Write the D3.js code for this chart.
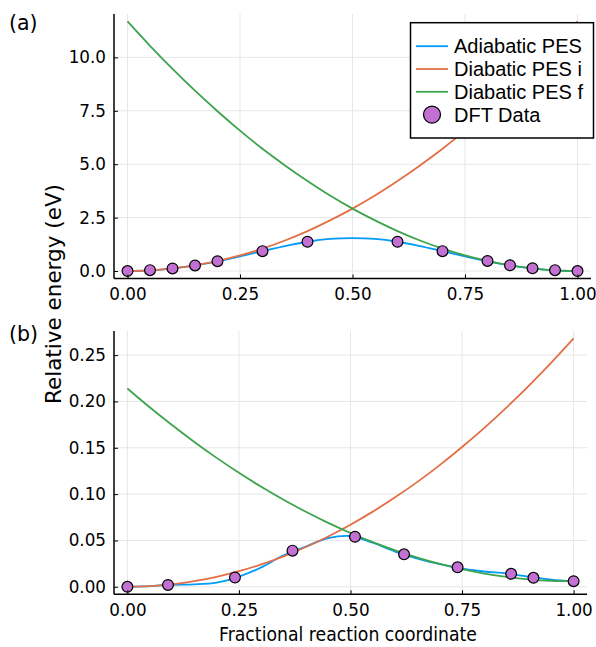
<!DOCTYPE html>
<html>
<head>
<meta charset="utf-8">
<script src="https://cdn.jsdelivr.net/npm/d3@7"></script>
<style>
  body { margin: 0; background: #fff; }
  svg { display: block; }
  .tick text { font-family: "DejaVu Sans", sans-serif; font-size: 16.8px; fill: #000; }
</style>
</head>
<body>
<svg id="chart" width="596" height="647"></svg>
<script>
// sample positions along the reaction coordinate
var coord = [0, 0.05, 0.1, 0.15, 0.2, 0.25, 0.3, 0.35, 0.4, 0.45, 0.5,
             0.55, 0.6, 0.65, 0.7, 0.75, 0.8, 0.85, 0.9, 0.95, 1];

// panel (a)
var adiabaticA = [0, 0.03, 0.12, 0.26, 0.45, 0.69, 0.93, 1.17, 1.37, 1.5, 1.54,
                  1.5, 1.37, 1.17, 0.93, 0.69, 0.45, 0.26, 0.12, 0.03, 0];
var diabIA = [0, 0.03, 0.12, 0.26, 0.47, 0.73, 1.05, 1.43, 1.87, 2.37, 2.92,
              3.53, 4.21, 4.94, 5.72, 6.57, 7.48, 8.44, 9.46, 10.54, 11.68];
var diabFA = [11.68, 10.54, 9.46, 8.44, 7.48, 6.57, 5.72, 4.94, 4.21, 3.53, 2.92,
              2.37, 1.87, 1.43, 1.05, 0.73, 0.47, 0.26, 0.12, 0.03, 0];
var dftXA = [0, 0.05, 0.1, 0.15, 0.2, 0.3, 0.4, 0.6, 0.7, 0.8, 0.85, 0.9, 0.95, 1];
var dftYA = [0, 0.04, 0.12, 0.26, 0.46, 0.93, 1.37, 1.37, 0.93, 0.47, 0.27, 0.13, 0.04, 0];
var yTicksA = [0, 2.5, 5, 7.5, 10];

// panel (b)
var adiabaticB = [0, 0.0008, 0.0022, 0.0026, 0.0045, 0.011, 0.021, 0.034, 0.0435, 0.0525, 0.0548,
                  0.0475, 0.038, 0.0305, 0.0245, 0.0195, 0.0165, 0.0143, 0.0108, 0.0078, 0.006];
var diabIB = [0, 0.0007, 0.0027, 0.006, 0.0107, 0.0168, 0.0241, 0.0328, 0.0429, 0.0543, 0.067,
              0.0811, 0.0965, 0.1132, 0.1313, 0.1508, 0.1715, 0.1936, 0.2171, 0.2419, 0.268];
var diabFB = [0.214, 0.1937, 0.1745, 0.1563, 0.1391, 0.123, 0.1079, 0.0939, 0.0809, 0.0689, 0.058,
              0.0481, 0.0393, 0.0315, 0.0247, 0.019, 0.0143, 0.0107, 0.0081, 0.0065, 0.006];
var dftXB = [0, 0.091, 0.241, 0.37, 0.51, 0.62, 0.74, 0.86, 0.91, 1];
var dftYB = [0, 0.002, 0.01, 0.039, 0.054, 0.035, 0.021, 0.014, 0.0097, 0.006];
var yTicksB = [0, 0.05, 0.1, 0.15, 0.2, 0.25];

var xTicks = [0, 0.25, 0.5, 0.75, 1];
var seriesNames = ['Adiabatic PES', 'Diabatic PES i', 'Diabatic PES f', 'DFT Data'];
var colors = ['#009af9', '#e26f46', '#3da44d', '#c271d2'];

var svg = d3.select('#chart');

var panels = [
  { tag: '(a)', tagY: 30, left: 114, right: 591, top: 14, bottom: 278.5,
    ydom: [-0.35, 12.03], yTicks: yTicksA, yFmt: d3.format('.1f'),
    lines: [adiabaticA, diabIA, diabFA], dx: dftXA, dy: dftYA },
  { tag: '(b)', tagY: 340.5, left: 114, right: 587, top: 331, bottom: 594.2,
    ydom: [-0.008, 0.276], yTicks: yTicksB, yFmt: d3.format('.2f'),
    lines: [adiabaticB, diabIB, diabFB], dx: dftXB, dy: dftYB }
];

panels.forEach(function(p, pi){
  var w = p.right - p.left;
  var x = d3.scaleLinear().domain([-0.03, 1.03]).range([p.left, p.right]);
  var y = d3.scaleLinear().domain(p.ydom).range([p.bottom, p.top]);
  var g = svg.append('g');

  // grid
  g.selectAll('.gx').data(xTicks).enter().append('line')
    .attr('x1', function(d){return x(d)}).attr('x2', function(d){return x(d)})
    .attr('y1', p.top).attr('y2', p.bottom)
    .attr('stroke', '#e6e6e6').attr('stroke-width', 1);
  g.selectAll('.gy').data(p.yTicks).enter().append('line')
    .attr('x1', p.left).attr('x2', p.right)
    .attr('y1', function(d){return y(d)}).attr('y2', function(d){return y(d)})
    .attr('stroke', '#e6e6e6').attr('stroke-width', 1);

  // curves
  var clipId = 'clip' + pi;
  svg.append('clipPath').attr('id', clipId).append('rect')
    .attr('x', p.left).attr('y', p.top).attr('width', w).attr('height', p.bottom - p.top);
  var line = d3.line()
    .x(function(d, i){return x(coord[i])})
    .y(function(d){return y(d)})
    .curve(d3.curveCatmullRom);
  p.lines.forEach(function(vals, k){
    g.append('path')
      .datum(vals)
      .attr('clip-path', 'url(#' + clipId + ')')
      .attr('d', line)
      .attr('fill', 'none')
      .attr('stroke', colors[k])
      .attr('stroke-width', 1.8);
  });

  // DFT markers
  g.selectAll('.dft').data(p.dx).enter().append('circle')
    .attr('cx', function(d){return x(d)})
    .attr('cy', function(d, i){return y(p.dy[i])})
    .attr('r', 5.4)
    .attr('fill', colors[3])
    .attr('stroke', '#000').attr('stroke-width', 1.2);

  // axes
  var xAxis = d3.axisBottom(x).tickValues(xTicks).tickFormat(d3.format('.2f'))
    .tickSize(-4).tickPadding(10);
  var yAxis = d3.axisLeft(y).tickValues(p.yTicks).tickFormat(p.yFmt)
    .tickSize(-4).tickPadding(8);
  var ax = g.append('g').attr('transform', 'translate(0,' + p.bottom + ')').call(xAxis);
  var ay = g.append('g').attr('transform', 'translate(' + p.left + ',0)').call(yAxis);
  [ax, ay].forEach(function(a){
    a.select('.domain').remove();
    a.selectAll('.tick line').attr('stroke', '#000').attr('stroke-width', 1);
  });
  g.append('line').attr('x1', p.left).attr('x2', p.right)
    .attr('y1', p.bottom).attr('y2', p.bottom)
    .attr('stroke', '#000').attr('stroke-width', 1.5);
  g.append('line').attr('x1', p.left).attr('x2', p.left)
    .attr('y1', p.top).attr('y2', p.bottom)
    .attr('stroke', '#000').attr('stroke-width', 1.5);

  // panel tag
  svg.append('text').attr('x', 9).attr('y', p.tagY)
    .attr('font-family', 'DejaVu Sans').attr('font-size', 20.5)
    .text(p.tag);
});

// legend (panel a)
var leg = svg.append('g');
leg.append('rect').attr('x', 410.5).attr('y', 22.7).attr('width', 183).attr('height', 115.3)
  .attr('fill', '#fff').attr('stroke', '#000').attr('stroke-width', 1.5);
seriesNames.forEach(function(name, i){
  var cy = 46.2 + i * 22.8;
  if (i < 3) {
    leg.append('line').attr('x1', 416).attr('x2', 448).attr('y1', cy).attr('y2', cy)
      .attr('stroke', colors[i]).attr('stroke-width', 1.8);
  } else {
    leg.append('circle').attr('cx', 432).attr('cy', cy).attr('r', 8.5)
      .attr('fill', colors[3]).attr('stroke', '#000').attr('stroke-width', 1.3);
  }
  leg.append('text').attr('x', 454).attr('y', cy).attr('dy', '0.36em')
    .attr('font-family', 'Liberation Sans').attr('font-size', 20)
    .text(name);
});

// axis labels
svg.append('text')
  .attr('transform', 'translate(61,294) rotate(-90)')
  .attr('text-anchor', 'middle')
  .attr('font-family', 'DejaVu Sans').attr('font-size', 21.5)
  .text('Relative energy (eV)');
svg.append('text')
  .attr('x', 348).attr('y', 641)
  .attr('text-anchor', 'middle')
  .attr('font-family', 'DejaVu Sans').attr('font-size', 19.5)
  .attr('textLength', 258).attr('lengthAdjust', 'spacingAndGlyphs')
  .text('Fractional reaction coordinate');
</script>
</body>
</html>
